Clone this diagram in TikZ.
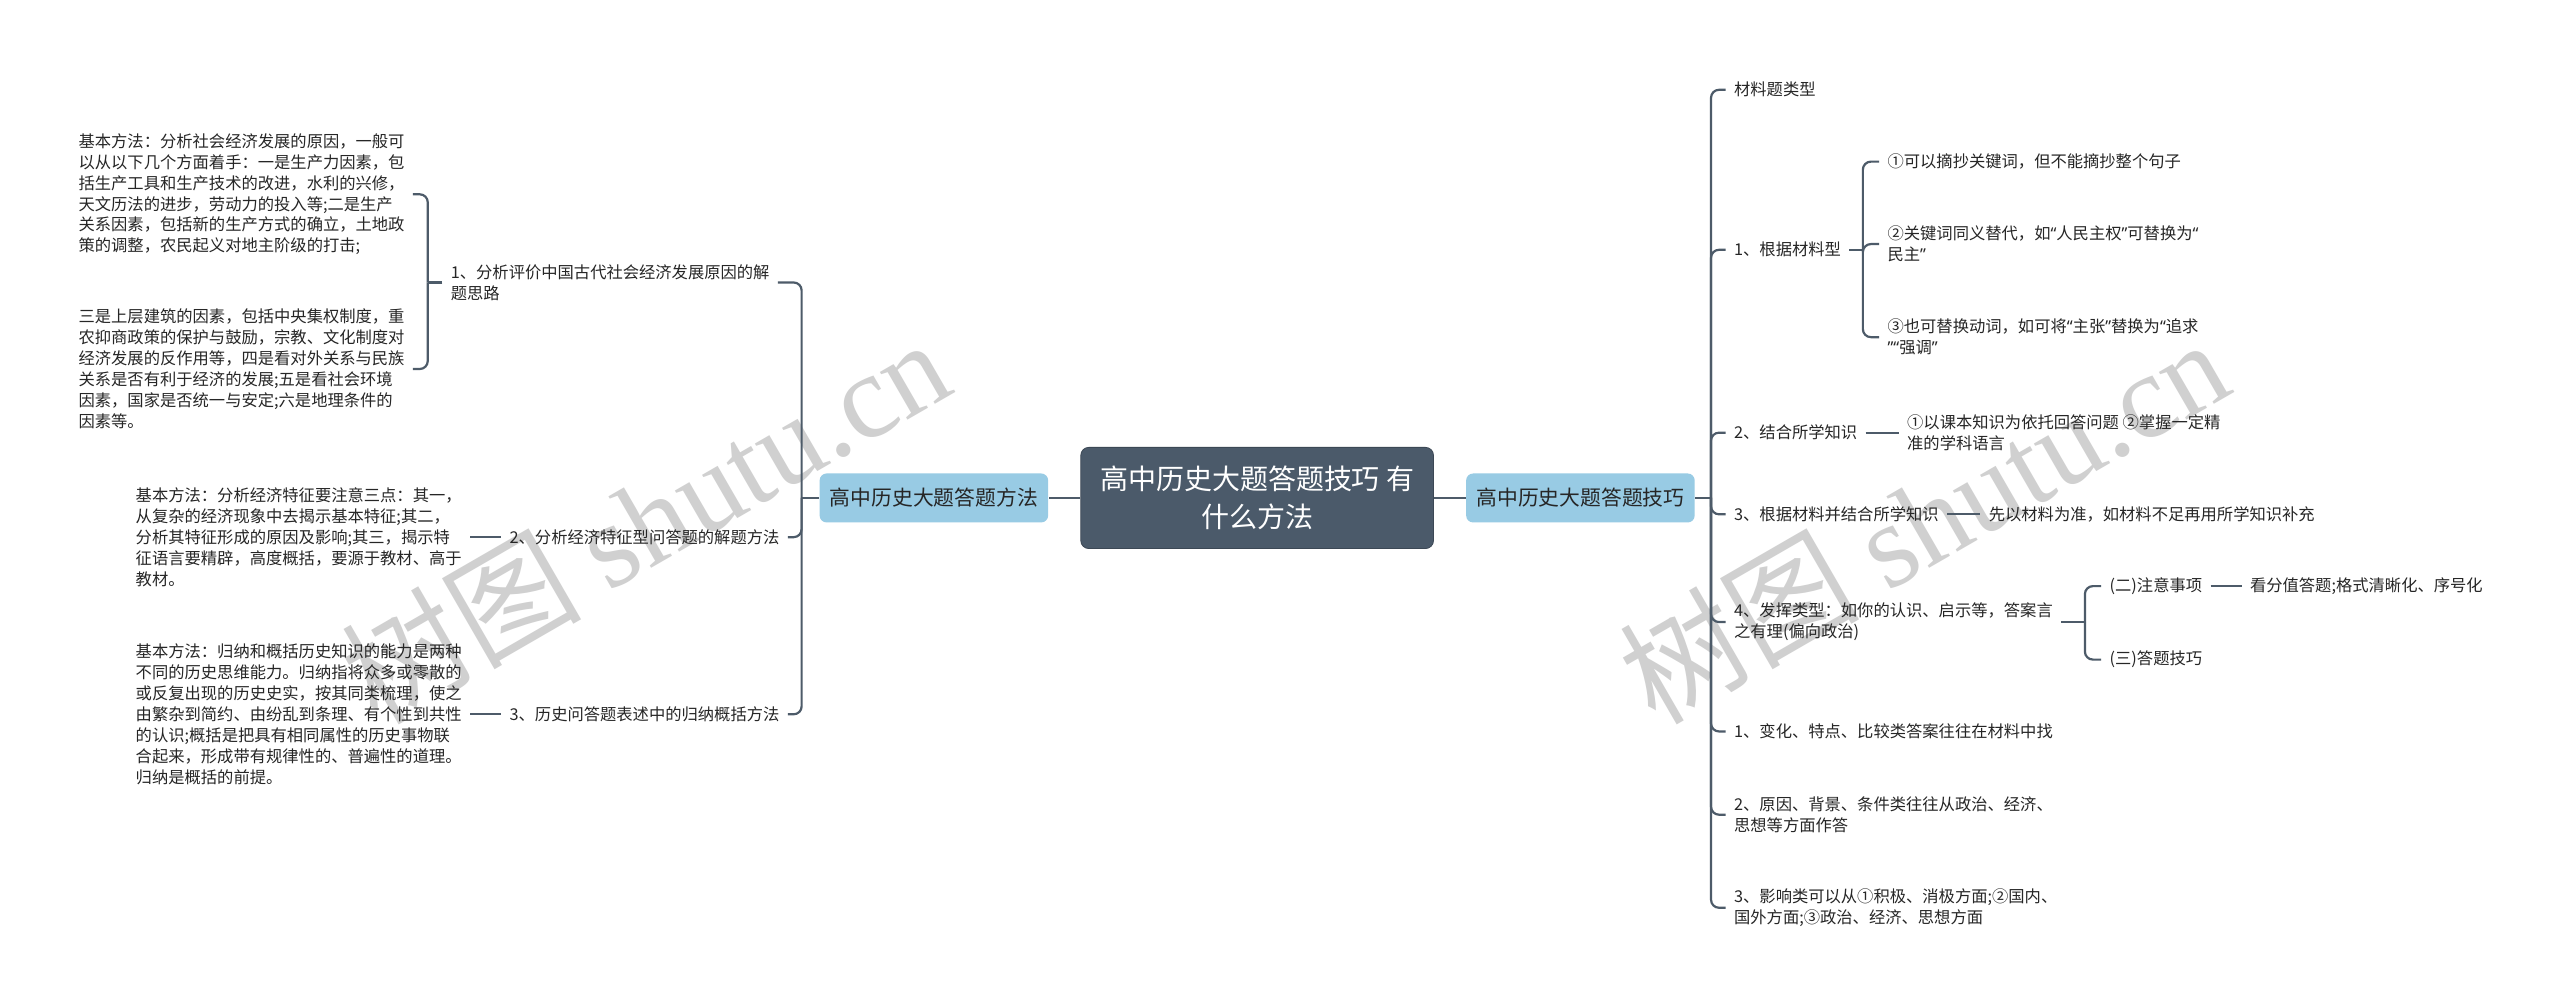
\documentclass[tikz,border=0pt]{standalone}
\usepackage{fontspec}
\setmainfont{Noto Sans CJK SC}
\newfontfamily\wmlatin{Liberation Serif}
\newfontfamily\qfont{Noto Sans}
\newcommand\myoq{{\qfont “}}
\newcommand\mycq{{\qfont ”}}
\definecolor{linec}{HTML}{4D5B69}
\definecolor{cenfill}{HTML}{4B5A6A}
\definecolor{mainfill}{HTML}{98CBE4}
\definecolor{txtc}{HTML}{262626}
\definecolor{wmc}{HTML}{C8C8C8}
\tikzset{
  leaf/.style={font=\fontsize{8.15pt}{10.45pt}\selectfont, text=txtc, align=left, inner xsep=4pt, inner ysep=1pt, anchor=west},
  conn/.style={draw=linec, line width=1.1pt, rounded corners=4pt},
  central/.style={fill=cenfill, draw=cenfill!80!black, line width=0.4pt, rounded corners=4pt, text=white, align=center,
    font=\fontsize{14pt}{19.2pt}\selectfont, minimum width=176.4pt, minimum height=50.6pt, inner sep=2pt},
  mainnode/.style={fill=mainfill, rounded corners=3.5pt, text=txtc, align=center,
    font=\fontsize{10.4pt}{12.5pt}\selectfont, minimum width=114.3pt, minimum height=24.5pt, inner sep=2pt},
  wm/.style={text=wmc, rotate=30, font=\fontsize{60pt}{60pt}\selectfont, opacity=0.85, inner sep=0pt}
}
\begin{document}
\begin{tikzpicture}[x=0.8165pt,y=-0.8165pt]
\fill[white] (0,0) rectangle (1568,617);
\useasboundingbox (0,0) rectangle (1568,617);
% watermarks
\node[wm] (wmL) at (395,318) {树图 {\wmlatin shutu.cn}};
\node[wm] (wmR) at (1178,318) {树图 {\wmlatin shutu.cn}};
% main nodes
\node[central] (cen) at (770,305) {高中历史大题答题技巧 有\\什么方法};
\node[mainnode] (lm) at (572,305) {高中历史大题答题方法};
\node[mainnode] (rm) at (968,305) {高中历史大题答题技巧};
% spine coordinates
\coordinate (sL) at (491,305);
\coordinate (sR) at (1048,305);
\coordinate (s1) at (1141,153);
\coordinate (s4) at (1277,381);
\coordinate (sL1) at (262,173);
% right side
\node[leaf] (r0) at (1057,55) {材料题类型};
\node[leaf] (r1) at (1057,153) {1、根据材料型};
\node[leaf] (r1a) at (1151,99) {①可以摘抄关键词，但不能摘抄整个句子};
\node[leaf] (r1b) at (1151,149.5) {②关键词同义替代，如\myoq 人民主权\mycq 可替换为\myoq\\民主\mycq};
\node[leaf] (r1c) at (1151,206.5) {③也可替换动词，如可将\myoq 主张\mycq 替换为\myoq 追求\\\mycq\myoq 强调\mycq};
\node[leaf] (r2) at (1057,265) {2、结合所学知识};
\node[leaf] (r2a) at (1163,265) {①以课本知识为依托回答问题 ②掌握一定精\\准的学科语言};
\node[leaf] (r3) at (1057,315) {3、根据材料并结合所学知识};
\node[leaf] (r3a) at (1213,315) {先以材料为准，如材料不足再用所学知识补充};
\node[leaf] (r4) at (1057,381) {4、发挥类型：如你的认识、启示等，答案言\\之有理(偏向政治)};
\node[leaf] (r4a) at (1287,359) {(二)注意事项};
\node[leaf] (r4a1) at (1373,359) {看分值答题;格式清晰化、序号化};
\node[leaf] (r4b) at (1287,404) {(三)答题技巧};
\node[leaf] (r5) at (1057,448) {1、变化、特点、比较类答案往往在材料中找};
\node[leaf] (r6) at (1057,499) {2、原因、背景、条件类往往从政治、经济、\\思想等方面作答};
\node[leaf] (r7) at (1057,556) {3、影响类可以从①积极、消极方面;②国内、\\国外方面;③政治、经济、思想方面};
% left side
\node[leaf] (l1) at (271,173) {1、分析评价中国古代社会经济发展原因的解\\题思路};
\node[leaf] (la) at (43,119) {基本方法：分析社会经济发展的原因，一般可\\以从以下几个方面着手：一是生产力因素，包\\括生产工具和生产技术的改进，水利的兴修，\\天文历法的进步，劳动力的投入等;二是生产\\关系因素，包括新的生产方式的确立，土地政\\策的调整，农民起义对地主阶级的打击;};
\node[leaf] (lb) at (43,226) {三是上层建筑的因素，包括中央集权制度，重\\农抑商政策的保护与鼓励，宗教、文化制度对\\经济发展的反作用等，四是看对外关系与民族\\关系是否有利于经济的发展;五是看社会环境\\因素，国家是否统一与安定;六是地理条件的\\因素等。};
\node[leaf] (l2) at (307,329) {2、分析经济特征型问答题的解题方法};
\node[leaf] (lc) at (78,329) {基本方法：分析经济特征要注意三点：其一，\\从复杂的经济现象中去揭示基本特征;其二，\\分析其特征形成的原因及影响;其三，揭示特\\征语言要精辟，高度概括，要源于教材、高于\\教材。};
\node[leaf] (l3) at (307,437.5) {3、历史问答题表述中的归纳概括方法};
\node[leaf] (ld) at (78,437.5) {基本方法：归纳和概括历史知识的能力是两种\\不同的历史思维能力。归纳指将众多或零散的\\或反复出现的历史史实，按其同类梳理，使之\\由繁杂到简约、由纷乱到条理、有个性到共性\\的认识;概括是把具有相同属性的历史事物联\\合起来，形成带有规律性的、普遍性的道理。\\归纳是概括的前提。};
% connectors
\draw[conn] (cen.east) -- (rm.west);
\draw[conn] (cen.west) -- (lm.east);
\draw[conn] (rm.east) -- (sR);
\foreach \c in {r0,r1,r2,r3,r4,r5,r6,r7} \draw[conn] (sR) |- (\c.west);
\draw[conn] (r1.east) -- (s1);
\foreach \c in {r1a,r1b,r1c} \draw[conn] (s1) |- (\c.west);
\draw[conn] (r2.east) -- (r2a.west);
\draw[conn] (r3.east) -- (r3a.west);
\draw[conn] (r4.east) -- (s4);
\foreach \c in {r4a,r4b} \draw[conn] (s4) |- (\c.west);
\draw[conn] (r4a.east) -- (r4a1.west);
\draw[conn] (lm.west) -- (sL);
\foreach \c in {l1,l2,l3} \draw[conn] (sL) |- (\c.east);
\draw[conn] (l1.west) -- (sL1);
\foreach \c in {la,lb} \draw[conn] (sL1) |- (\c.east);
\draw[conn] (lc.east) -- (l2.west);
\draw[conn] (ld.east) -- (l3.west);
\end{tikzpicture}
\end{document}
